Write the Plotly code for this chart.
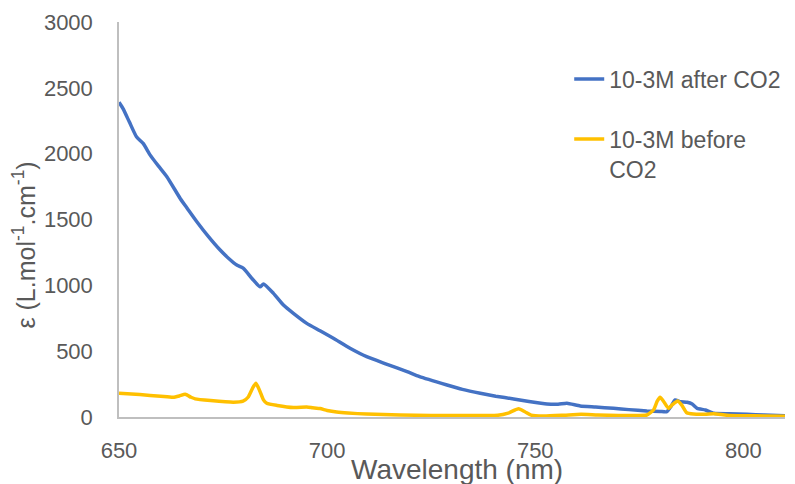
import plotly.graph_objects as go

# Wavelength (nm) and epsilon values
wl_after = [650, 651, 652.5, 654.2, 655.8, 657.5, 659.5, 661.5, 664.7, 666.5, 668.7, 671.5,
            674.3, 676.5, 678.3, 679.9, 682, 683.9, 684.7, 687.1, 689.5, 691.9, 695.1, 698.3,
            701.5, 705.5, 709.5, 714.4, 719.2, 722.2, 728.8, 732.5, 736.8, 740.5, 744.8, 748.5,
            752.8, 755.5, 757.6, 760.8, 764.5, 768.8, 772.5, 776.8, 780, 781.6, 782.6, 783.6,
            784.9, 786.5, 787.7, 788.9, 790.9, 792.9, 796.5, 800.9, 805, 810]
eps_after = [2390, 2340, 2240, 2128, 2078, 1989, 1905, 1825, 1660, 1580, 1483, 1370,
             1268, 1200, 1154, 1129, 1050, 989, 1010, 939, 850, 787, 711, 655,
             598, 522, 458, 400, 344, 306, 243, 210, 180, 158, 137, 118,
             99, 97, 104, 84, 76, 66, 56, 46, 42, 40, 80, 129,
             116, 112, 99, 66, 53, 28, 24, 20, 15, 10]

wl_before = [650, 655, 660, 663, 664.5, 665.9, 667.3, 668.3, 672, 677.5, 679.8, 681, 682.1,
             682.9, 683.8, 684.7, 685.5, 688, 691.9, 695.1, 696.5, 698.3, 700, 702.3, 705,
             709.5, 717.5, 725, 735, 741, 743.5, 746, 747.5, 749, 752, 757, 761, 765, 770,
             776.8, 778.4, 779.3, 780, 780.8, 782, 783, 784.2, 785.2, 786.4, 788, 790, 792.9,
             796, 800, 805, 810]
eps_before = [180, 170, 158, 150, 160, 172, 150, 138, 125, 112, 120, 150, 220,
              256, 200, 130, 104, 88, 72, 75, 70, 64, 50, 38, 30,
              22, 15, 12, 12, 13, 30, 62, 40, 14, 8, 14, 20, 15, 12,
              15, 53, 120, 150, 120, 66, 95, 121, 90, 32, 22, 20, 24,
              14, 10, 8, 6]

x_ticks = [650, 700, 750, 800]
y_ticks = [0, 500, 1000, 1500, 2000, 2500, 3000]

FONT = "Liberation Sans"
GREY = "#595959"

fig = go.Figure()
fig.add_trace(go.Scatter(x=wl_after, y=eps_after, mode="lines", name="10-3M after CO2",
                         legendgroup="a",
                         line=dict(color="#4472C4", width=3.5, shape="spline", smoothing=0.5)))
fig.add_trace(go.Scatter(x=wl_before, y=eps_before, mode="lines", name="10-3M before<br>CO2",
                         legendgroup="b",
                         line=dict(color="#FFC000", width=3.5, shape="spline", smoothing=0.5)))

# the page body adds an 8px margin, so the figure is sized/offset to compensate
fig.update_layout(
    width=787, height=476,
    margin=dict(l=111, r=10, t=14, b=67, autoexpand=False),
    paper_bgcolor="white", plot_bgcolor="white",
    font=dict(family=FONT, color=GREY, size=22),
    showlegend=True,
    legend=dict(x=0.676, y=0.91, xanchor="left", yanchor="top", valign="top",
                font=dict(size=23, color=GREY), bgcolor="rgba(0,0,0,0)",
                traceorder="grouped", tracegroupgap=27, itemwidth=30),
    xaxis=dict(range=[650, 810], tickvals=x_ticks, showgrid=False, zeroline=False,
               showline=True, linecolor="#BFBFBF", linewidth=1.5, ticks="", automargin=False,
               ticklabelstandoff=13, tickfont=dict(size=22, color=GREY)),
    yaxis=dict(range=[0, 3000], tickvals=y_ticks, showgrid=False, zeroline=False,
               showline=True, linecolor="#BFBFBF", linewidth=1.5, ticks="", automargin=False,
               ticklabelstandoff=20, tickfont=dict(size=22, color=GREY)),
    annotations=[
        dict(text="Wavelength (nm)", xref="paper", yref="paper", x=0.507, y=-0.133,
             xanchor="center", yanchor="middle", showarrow=False,
             font=dict(size=28, color=GREY, family=FONT)),
        dict(text="ε (L.mol<sup>-1</sup>.cm<sup>-1</sup>)", xref="paper", yref="paper",
             x=-0.142, y=0.435, xanchor="center", yanchor="middle", showarrow=False,
             textangle=-90, font=dict(size=25, color=GREY, family=FONT)),
    ],
)

fig.write_html("out.html")
